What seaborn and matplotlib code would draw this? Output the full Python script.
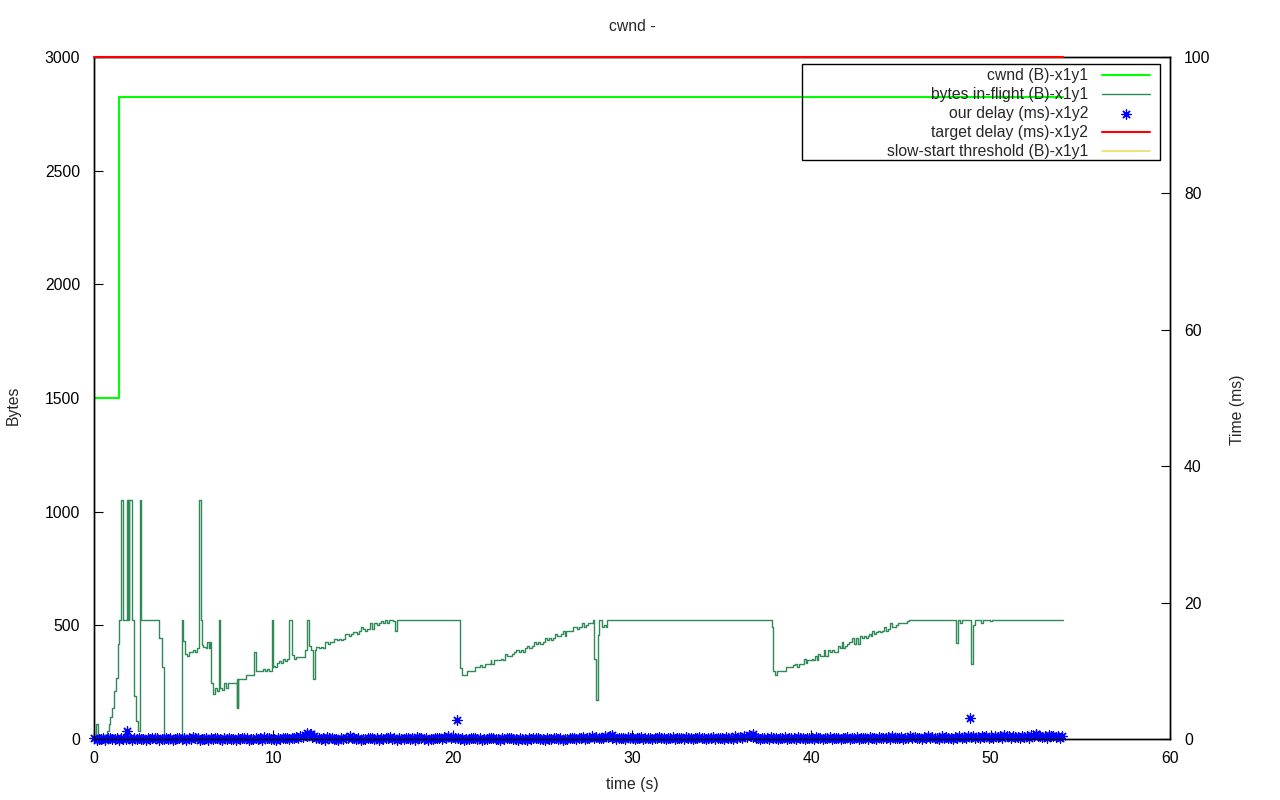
import matplotlib
matplotlib.use("Agg")
import matplotlib.pyplot as plt
import matplotlib.patches as mpatches
import seaborn as sns

# ---------------- data ----------------
title = "cwnd -"
xlabel = "time (s)"
ylabel = "Bytes"
y2label = "Time (ms)"
labels = ["cwnd (B)-x1y1", "bytes in-flight (B)-x1y1", "our delay (ms)-x1y2",
          "target delay (ms)-x1y2", "slow-start threshold (B)-x1y1"]
xticks = [0, 10, 20, 30, 40, 50, 60]
yticks = [0, 500, 1000, 1500, 2000, 2500, 3000]
y2ticks = [0, 20, 40, 60, 80, 100]

cwnd_t = [0.0, 1.40, 54.02]
cwnd_b = [1500, 2825, 2825]

target_t = [0.0, 54.02]
target_ms = [100, 100]

ssthresh_t = []
ssthresh_b = []

inflight_t = [
    0.00, 0.09, 0.22, 0.74, 0.82, 0.91, 1.02, 1.13, 1.23, 1.32,
    1.41, 1.52, 1.63, 1.86, 1.88, 1.90, 1.93, 1.95, 2.14, 2.25,
    2.36, 2.47, 2.57, 2.64, 3.64, 3.77, 3.92, 4.92, 4.98, 5.06,
    5.17, 5.28, 5.50, 5.61, 5.76, 5.87, 5.95, 6.00, 6.10, 6.23,
    6.28, 6.39, 6.49, 6.54, 6.65, 6.77, 6.88, 6.99, 7.01, 7.03,
    7.16, 7.27, 7.38, 7.49, 7.96, 7.99, 8.01, 8.05, 8.48, 8.94,
    9.05, 9.44, 9.55, 9.66, 9.78, 9.93, 9.96, 9.98, 10.00, 10.11,
    10.22, 10.33, 10.44, 10.56, 10.67, 10.78, 10.89, 11.02, 11.14, 11.25,
    11.78, 11.89, 12.01, 12.12, 12.23, 12.34, 12.40, 12.53, 12.64, 12.75,
    12.90, 13.05, 13.16, 13.38, 13.53, 13.64, 13.76, 13.87, 14.02, 14.24,
    14.35, 14.46, 14.65, 14.76, 14.91, 15.02, 15.13, 15.24, 15.39, 15.50,
    15.61, 15.76, 15.88, 16.02, 16.13, 16.24, 16.35, 16.43, 16.69, 16.80,
    16.91, 20.43, 20.54, 20.78, 21.27, 21.54, 21.66, 21.82, 22.12, 22.15,
    22.33, 22.68, 22.79, 22.94, 23.05, 23.33, 23.44, 23.55, 23.68, 23.79,
    23.94, 24.05, 24.16, 24.27, 24.42, 24.55, 24.66, 24.77, 24.89, 25.06,
    25.16, 25.28, 25.39, 25.50, 25.61, 25.69, 25.80, 26.06, 26.17, 26.28,
    26.32, 26.73, 26.95, 27.06, 27.21, 27.32, 27.44, 27.55, 27.84, 27.88,
    27.99, 28.10, 28.14, 28.33, 28.44, 28.55, 28.59, 37.83, 37.88, 37.99,
    38.10, 38.61, 39.00, 39.11, 39.22, 39.29, 39.61, 39.72, 39.78, 40.02,
    40.11, 40.22, 40.33, 40.39, 40.50, 40.72, 40.78, 40.95, 41.06, 41.17,
    41.28, 41.50, 41.60, 41.71, 41.78, 41.90, 42.01, 42.12, 42.29, 42.40,
    42.51, 42.62, 42.73, 42.84, 42.96, 43.07, 43.18, 43.23, 43.34, 43.40,
    43.51, 43.62, 43.73, 43.85, 43.96, 44.07, 44.18, 44.29, 44.40, 44.52,
    44.74, 44.85, 45.32, 45.43, 48.09, 48.20, 48.31, 48.42, 48.92, 49.03,
    49.14, 49.48, 49.59, 49.98, 50.09, 54.02,
]
inflight_b = [
    0, 66, 0, 37, 65, 98, 136, 211, 270, 418,
    525, 1050, 525, 1050, 525, 1050, 525, 1050, 525, 190,
    80, 37, 1050, 525, 446, 315, 0, 525, 431, 374,
    365, 381, 391, 381, 400, 1050, 525, 413, 406, 402,
    425, 402, 425, 245, 200, 226, 211, 525, 362, 226,
    215, 245, 226, 245, 135, 263, 135, 263, 280, 381,
    299, 308, 299, 308, 299, 525, 315, 525, 322, 315,
    333, 343, 333, 350, 343, 350, 525, 370, 352, 362,
    391, 525, 410, 390, 264, 390, 406, 400, 406, 400,
    425, 418, 425, 442, 435, 442, 435, 442, 460, 452,
    460, 471, 462, 474, 491, 482, 474, 485, 509, 482,
    509, 500, 509, 517, 509, 525, 509, 525, 517, 474,
    525, 311, 282, 299, 315, 324, 315, 330, 346, 330,
    346, 354, 346, 373, 365, 373, 381, 390, 381, 390,
    381, 399, 408, 399, 408, 425, 416, 425, 416, 425,
    443, 434, 443, 434, 443, 460, 451, 460, 474, 451,
    474, 491, 482, 491, 509, 491, 500, 509, 525, 354,
    171, 457, 525, 491, 500, 491, 525, 494, 299, 280,
    299, 315, 324, 330, 315, 330, 354, 333, 346, 354,
    346, 364, 346, 373, 365, 390, 365, 390, 381, 390,
    381, 408, 399, 425, 399, 408, 416, 425, 443, 416,
    443, 416, 451, 443, 451, 443, 451, 460, 451, 474,
    460, 470, 474, 470, 474, 491, 474, 482, 509, 491,
    500, 509, 517, 525, 421, 525, 510, 525, 329, 500,
    525, 510, 525, 517, 525, 525,
]

delay_t = [
    0.02, 0.26, 0.51, 0.77, 1.03, 1.27, 1.52, 1.76, 2.01, 2.24, 2.49, 2.75, 3.02, 3.26, 3.51, 3.77,
    4.03, 4.25, 4.50, 4.76, 5.01, 5.27, 5.53, 5.78, 6.02, 6.25, 6.51, 6.74, 7.00, 7.26, 7.52, 7.77,
    8.03, 8.27, 8.51, 8.75, 9.02, 9.26, 9.50, 9.76, 10.01, 10.25, 10.52, 10.77, 11.02, 11.26, 11.51, 11.75,
    12.02, 12.27, 12.52, 12.76, 13.01, 13.25, 13.50, 13.76, 14.03, 14.27, 14.51, 14.74, 15.01, 15.26, 15.52, 15.77,
    16.02, 16.26, 16.50, 16.75, 17.02, 17.27, 17.51, 17.76, 18.01, 18.25, 18.52, 18.77, 19.02, 19.26, 19.51, 19.75,
    20.02, 20.27, 20.52, 20.76, 21.01, 21.25, 21.50, 21.76, 22.03, 22.27, 22.51, 22.74, 23.01, 23.26, 23.52, 23.77,
    24.02, 24.26, 24.50, 24.75, 25.02, 25.27, 25.51, 25.76, 26.01, 26.25, 26.52, 26.77, 27.02, 27.26, 27.51, 27.75,
    28.02, 28.27, 28.52, 28.76, 29.01, 29.25, 29.50, 29.76, 30.03, 30.27, 30.51, 30.74, 31.01, 31.26, 31.52, 31.77,
    32.02, 32.26, 32.50, 32.75, 33.02, 33.27, 33.51, 33.76, 34.01, 34.25, 34.52, 34.77, 35.02, 35.26, 35.51, 35.75,
    36.02, 36.27, 36.52, 36.76, 37.01, 37.25, 37.50, 37.76, 38.03, 38.27, 38.51, 38.74, 39.01, 39.26, 39.52, 39.77,
    40.02, 40.26, 40.50, 40.75, 41.02, 41.27, 41.51, 41.76, 42.01, 42.25, 42.52, 42.77, 43.02, 43.26, 43.51, 43.75,
    44.02, 44.27, 44.52, 44.76, 45.01, 45.25, 45.50, 45.76, 46.03, 46.27, 46.51, 46.74, 47.01, 47.26, 47.52, 47.77,
    48.02, 48.26, 48.50, 48.75, 49.02, 49.27, 49.51, 49.76, 50.01, 50.25, 50.52, 50.77, 51.02, 51.26, 51.51, 51.75,
    52.02, 52.27, 52.52, 52.76, 53.01, 53.25, 53.50, 53.76, 54.00,
    0.14, 0.39, 0.64, 0.89, 1.15, 1.40, 1.64, 1.89, 2.13, 2.37, 2.62, 2.88, 3.14, 3.39, 3.64, 3.89,
    4.14, 4.38, 4.63, 4.88, 5.14, 5.40, 5.65, 5.90, 6.13, 6.38, 6.62, 6.87, 7.13, 7.39, 7.64, 7.90,
    8.15, 8.39, 8.63, 8.88, 9.14, 9.38, 9.63, 9.89, 10.13, 10.39, 10.64, 10.89, 11.14, 11.38, 11.63, 11.88,
    12.14, 12.39, 12.64, 12.89, 13.13, 13.38, 13.63, 13.88, 14.15, 14.39, 14.62, 14.88, 15.13, 15.39, 15.64, 15.89,
    16.14, 16.38, 16.63, 16.88, 17.14, 17.39, 17.63, 17.88, 18.13, 18.39, 18.64, 18.89, 19.14, 19.38, 19.63, 19.88,
    20.14, 20.39, 20.64, 20.89, 21.13, 21.38, 21.63, 21.89, 22.15, 22.39, 22.62, 22.88, 23.14, 23.39, 23.64, 23.89,
    24.14, 24.38, 24.63, 24.88, 25.14, 25.39, 25.63, 25.88, 26.13, 26.39, 26.64, 26.89, 27.14, 27.38, 27.63, 27.88,
    28.14, 28.39, 28.64, 28.89, 29.13, 29.38, 29.63, 29.89, 30.15, 30.39, 30.62, 30.88, 31.14, 31.39, 31.64, 31.89,
    32.14, 32.38, 32.63, 32.88, 33.14, 33.39, 33.63, 33.88, 34.13, 34.39, 34.64, 34.89, 35.14, 35.38, 35.63, 35.88,
    36.14, 36.39, 36.64, 36.89, 37.13, 37.38, 37.63, 37.89, 38.15, 38.39, 38.62, 38.88, 39.14, 39.39, 39.64, 39.89,
    40.14, 40.38, 40.63, 40.88, 41.14, 41.39, 41.63, 41.88, 42.13, 42.39, 42.64, 42.89, 43.14, 43.38, 43.63, 43.88,
    44.14, 44.39, 44.64, 44.89, 45.13, 45.38, 45.63, 45.89, 46.15, 46.39, 46.62, 46.88, 47.14, 47.39, 47.64, 47.89,
    48.14, 48.38, 48.63, 48.88, 49.14, 49.39, 49.63, 49.88, 50.13, 50.39, 50.64, 50.89, 51.14, 51.38, 51.63, 51.88,
    52.14, 52.39, 52.64, 52.89, 53.13, 53.38, 53.63, 53.89,
    1.84, 11.90, 12.10, 20.24, 28.90, 36.75, 48.85, 52.50,
]
delay_ms = [
    0.1, 0.0, 0.2, 0.1, 0.0, 0.1, 0.2, 0.0, 0.1, 0.2, 0.1, 0.0, 0.1, 0.2, 0.1, 0.0,
    0.2, 0.1, 0.0, 0.1, 0.2, 0.1, 0.3, 0.1, 0.0, 0.1, 0.2, 0.1, 0.0, 0.2, 0.1, 0.0,
    0.1, 0.2, 0.1, 0.0, 0.1, 0.2, 0.3, 0.1, 0.0, 0.1, 0.2, 0.1, 0.2, 0.3, 0.5, 0.6,
    0.7, 0.4, 0.2, 0.1, 0.3, 0.1, 0.0, 0.2, 0.1, 0.4, 0.2, 0.1, 0.0, 0.1, 0.2, 0.1,
    0.2, 0.1, 0.3, 0.2, 0.1, 0.0, 0.2, 0.1, 0.3, 0.1, 0.2, 0.0, 0.1, 0.2, 0.3, 0.4,
    0.3, 0.1, 0.2, 0.0, 0.1, 0.2, 0.1, 0.0, 0.2, 0.1, 0.0, 0.1, 0.2, 0.1, 0.0, 0.1,
    0.0, 0.1, 0.2, 0.1, 0.0, 0.1, 0.0, 0.2, 0.1, 0.0, 0.1, 0.2, 0.1, 0.3, 0.2, 0.4,
    0.3, 0.2, 0.4, 0.5, 0.3, 0.2, 0.1, 0.3, 0.2, 0.1, 0.3, 0.2, 0.1, 0.2, 0.3, 0.1,
    0.2, 0.3, 0.1, 0.2, 0.3, 0.1, 0.2, 0.3, 0.2, 0.1, 0.3, 0.2, 0.1, 0.3, 0.2, 0.4,
    0.3, 0.5, 0.6, 0.3, 0.2, 0.1, 0.2, 0.3, 0.1, 0.2, 0.3, 0.1, 0.2, 0.3, 0.2, 0.1,
    0.2, 0.3, 0.2, 0.1, 0.3, 0.2, 0.1, 0.2, 0.3, 0.2, 0.3, 0.1, 0.2, 0.3, 0.2, 0.3,
    0.2, 0.3, 0.4, 0.2, 0.3, 0.2, 0.4, 0.3, 0.2, 0.3, 0.4, 0.3, 0.2, 0.4, 0.3, 0.2,
    0.3, 0.4, 0.3, 0.5, 0.4, 0.3, 0.5, 0.4, 0.3, 0.5, 0.4, 0.6, 0.4, 0.5, 0.3, 0.5,
    0.4, 0.6, 0.7, 0.5, 0.4, 0.6, 0.5, 0.4, 0.5,
    -0.1, 0.0, -0.1, 0.1, 0.0, -0.1, 0.0, 0.1, -0.1, 0.0, 0.0, -0.1, 0.0, 0.1, -0.1, 0.0,
    0.0, -0.1, 0.1, 0.0, -0.1, 0.0, 0.1, -0.1, 0.0, -0.1, 0.0, 0.1, -0.1, 0.0, 0.0, -0.1,
    0.0, 0.1, -0.1, 0.0, 0.0, -0.1, 0.1, 0.0, -0.1, 0.0, 0.1, 0.0, 0.1, 0.2, 0.3, 0.4,
    0.3, 0.2, 0.0, -0.1, 0.1, 0.0, -0.1, 0.0, 0.1, 0.2, 0.0, -0.1, 0.0, 0.1, 0.0, -0.1,
    0.0, 0.1, 0.0, -0.1, 0.0, 0.1, 0.0, -0.1, 0.1, 0.0, -0.1, 0.0, 0.1, 0.0, 0.1, 0.2,
    0.1, 0.0, -0.1, 0.0, 0.1, 0.0, -0.1, 0.0, 0.1, 0.0, -0.1, 0.0, 0.1, 0.0, -0.1, 0.0,
    -0.1, 0.0, 0.1, 0.0, -0.1, 0.0, 0.1, 0.0, -0.1, 0.0, 0.1, 0.0, 0.1, 0.0, 0.1, 0.2,
    0.1, 0.2, 0.3, 0.1, 0.0, 0.1, 0.0, 0.1, 0.0, 0.1, 0.0, 0.1, 0.0, 0.1, 0.2, 0.0,
    0.1, 0.0, 0.1, 0.0, 0.1, 0.0, 0.1, 0.2, 0.0, 0.1, 0.0, 0.1, 0.0, 0.1, 0.0, 0.2,
    0.1, 0.3, 0.4, 0.1, 0.0, 0.1, 0.0, 0.1, 0.0, 0.1, 0.0, 0.1, 0.0, 0.1, 0.0, 0.1,
    0.0, 0.1, 0.0, 0.1, 0.0, 0.1, 0.0, 0.1, 0.0, 0.1, 0.0, 0.1, 0.0, 0.1, 0.0, 0.1,
    0.1, 0.0, 0.2, 0.1, 0.0, 0.1, 0.2, 0.1, 0.0, 0.1, 0.2, 0.1, 0.0, 0.2, 0.1, 0.0,
    0.1, 0.2, 0.1, 0.3, 0.2, 0.1, 0.3, 0.2, 0.1, 0.3, 0.2, 0.4, 0.2, 0.3, 0.1, 0.3,
    0.2, 0.4, 0.5, 0.3, 0.2, 0.4, 0.3, 0.2,
    1.2, 0.9, 0.8, 2.8, 0.6, 0.7, 3.1, 0.8,
]

# ---------------- style ----------------
sns.set_style("white")
plt.rcParams['font.family'] = ['Liberation Sans', 'DejaVu Sans']
FS = 11.3

W, H = 1280, 800
fig = plt.figure(figsize=(W / 100, H / 100), dpi=100)
L, R, B, T = 94, 1170, 739, 57
ax = fig.add_axes([L / W, 1 - B / H, (R - L) / W, (B - T) / H])
ax2 = ax.twinx()

c_cwnd = "#00ff00"
c_infl = "#2e8b57"
c_delay = "#0000ff"
c_target = "#ff0000"
c_ss = "#e8dc50"

sns.lineplot(x=cwnd_t, y=cwnd_b, ax=ax, color=c_cwnd, linewidth=1.5,
             drawstyle="steps-post", estimator=None, sort=False, legend=False)
sns.lineplot(x=inflight_t, y=inflight_b, ax=ax, color=c_infl, linewidth=1.0,
             drawstyle="steps-post", estimator=None, sort=False, legend=False)
ax.plot(ssthresh_t, ssthresh_b, color=c_ss, linewidth=1.1)

sns.scatterplot(x=delay_t, y=delay_ms, ax=ax2, marker=(8, 2, 0), s=44,
                color=c_delay, linewidth=0.9, clip_on=False, zorder=2, legend=False)
sns.lineplot(x=target_t, y=target_ms, ax=ax2, color=c_target, linewidth=1.5,
             estimator=None, sort=False, legend=False, zorder=3)
for ln in ax2.lines:
    ln.set_clip_on(False)

ax.set_xlim(0, 60)
ax.set_ylim(0, 3000)
ax2.set_ylim(0, 100)
ax.set_xticks(xticks)
ax.set_yticks(yticks)
ax2.set_yticks(y2ticks)

for a in (ax, ax2):
    for sp in a.spines.values():
        sp.set_color("black")
        sp.set_linewidth(1.0)
        sp.set_visible(True)

ax.tick_params(axis="x", direction="in", length=6.5, width=0.8, colors="black",
               labelsize=FS, pad=8.5, bottom=True, top=False)
ax.tick_params(axis="y", direction="in", length=6.5, width=0.8, colors="black",
               labelsize=FS, pad=10, left=True, right=False)
ax2.tick_params(axis="y", direction="in", length=6.5, width=0.8, colors="black",
                labelsize=FS, pad=10, left=False, right=True)

ax.set_xlabel(xlabel, fontsize=FS)
ax.set_ylabel(ylabel, fontsize=FS)
ax2.set_ylabel(y2label, fontsize=FS)
ax.xaxis.set_label_coords(0.5, (B - 785) / (B - T))
ax.xaxis.label.set_verticalalignment("center")
ax.yaxis.set_label_coords((13 - L) / (R - L), (B - 405) / (B - T))
ax.yaxis.label.set_verticalalignment("center")
ax2.yaxis.set_label_coords((1237 - L) / (R - L), (B - 410) / (B - T))
ax2.yaxis.label.set_verticalalignment("center")

ax.set_title(title, fontsize=FS, y=1 + (T - 27) / (B - T), pad=0, va="center")

# legend (gnuplot style: text right-aligned, sample on the right)
handles = [ax.lines[0], ax.lines[1], ax2.collections[0], ax2.lines[0], ax.lines[2]]
leg = ax2.legend(handles, labels, loc="upper right",
                 bbox_to_anchor=(1150 / W, 1 - 68 / H), bbox_transform=fig.transFigure,
                 borderaxespad=0, borderpad=0, markerfirst=False, frameon=False,
                 handlelength=3.05, handletextpad=0.9, labelspacing=0.26,
                 fontsize=FS, scatterpoints=1)
rect = mpatches.Rectangle((802 / W, 1 - 160 / H), (1160 - 802) / W, (160 - 64) / H,
                          transform=fig.transFigure, fill=False, edgecolor="black",
                          linewidth=1.0, zorder=5)
fig.add_artist(rect)

fig.savefig("out.png", dpi=100)
